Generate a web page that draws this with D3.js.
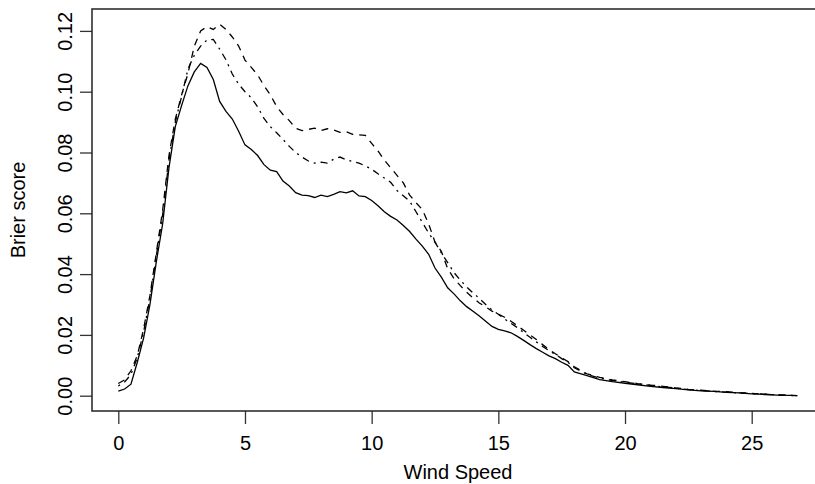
<!DOCTYPE html>
<html>
<head>
<meta charset="utf-8">
<script src="https://cdn.jsdelivr.net/npm/d3@7"></script>
<style>
body{margin:0;background:#fff;}
text{font-family:"Liberation Sans",Arial,Helvetica,sans-serif;fill:#000;}
</style>
</head>
<body>
<div id="brier_viz"></div>
<script>
// wind speed grid shared by the three curves
var windSpeed = [0,0.25,0.5,0.75,1,1.25,1.5,1.75,2,2.25,2.5,2.75,3,3.25,3.5,3.75,4,4.25,4.5,4.75,
    5,5.25,5.5,5.75,6,6.25,6.5,6.75,7,7.25,7.5,7.75,8,8.25,8.5,8.75,9,9.25,9.5,9.75,
    10,10.25,10.5,10.75,11,11.25,11.5,11.75,12,12.25,12.5,12.75,13,13.25,13.5,13.75,14,14.25,14.5,14.75,
    15,15.25,15.5,15.75,16,16.25,16.5,16.75,17,17.25,17.5,17.75,18,18.5,19,19.5,20,20.5,21,21.5,
    22,22.5,23,23.5,24,24.5,25,25.5,26,26.5,26.8];

// solid
var brierSolid = [0.0015,0.0022,0.0038,0.0110,0.0190,0.0300,0.0440,0.0565,0.0750,0.0885,0.0955,0.1020,0.1065,0.1093,0.1080,0.1040,0.0968,0.0935,0.0910,0.0870,
    0.0825,0.0810,0.0790,0.0760,0.0742,0.0737,0.0706,0.0690,0.0668,0.0660,0.0658,0.0652,0.0660,0.0655,0.0662,0.0671,0.0667,0.0674,0.0657,0.0655,
    0.0642,0.0625,0.0605,0.0590,0.0578,0.0560,0.0540,0.0515,0.0492,0.0465,0.0420,0.0390,0.0355,0.0335,0.0312,0.0293,0.0278,0.0262,0.0245,0.0228,
    0.0218,0.0213,0.0207,0.0195,0.0182,0.0168,0.0155,0.0143,0.0131,0.0122,0.0110,0.0100,0.0078,0.0066,0.0053,0.0046,0.0041,0.0036,0.0031,0.0027,
    0.0023,0.0019,0.0016,0.0014,0.0011,0.0009,0.0006,0.0004,0.0002,0.0001,0.0000];

// dashed
var brierDashed = [0.0040,0.0052,0.0082,0.0132,0.0220,0.0330,0.0470,0.0610,0.0790,0.0910,0.0990,0.1060,0.1150,0.1200,0.1214,0.1205,0.1222,0.1205,0.1180,0.1150,
    0.1104,0.1080,0.1055,0.1020,0.0990,0.0951,0.0925,0.0905,0.0880,0.0872,0.0876,0.0880,0.0872,0.0878,0.0874,0.0866,0.0868,0.0860,0.0858,0.0856,
    0.0830,0.0805,0.0775,0.0750,0.0725,0.0700,0.0660,0.0635,0.0612,0.0565,0.0505,0.0475,0.0418,0.0385,0.0362,0.0340,0.0322,0.0305,0.0292,0.0278,
    0.0268,0.0258,0.0245,0.0230,0.0215,0.0200,0.0185,0.0168,0.0152,0.0138,0.0125,0.0112,0.0095,0.0072,0.0060,0.0052,0.0046,0.0040,0.0035,0.0031,
    0.0026,0.0021,0.0018,0.0015,0.0013,0.0010,0.0008,0.0005,0.0003,0.0001,0.0000];

// dot-dash
var brierDotDash = [0.0032,0.0045,0.0070,0.0125,0.0210,0.0320,0.0460,0.0595,0.0775,0.0900,0.0985,0.1075,0.1120,0.1150,0.1170,0.1172,0.1140,0.1105,0.1058,0.1025,
    0.1000,0.0980,0.0950,0.0912,0.0885,0.0865,0.0843,0.0820,0.0800,0.0785,0.0772,0.0765,0.0768,0.0765,0.0778,0.0785,0.0776,0.0770,0.0765,0.0756,
    0.0745,0.0730,0.0716,0.0702,0.0675,0.0658,0.0640,0.0605,0.0570,0.0535,0.0505,0.0470,0.0438,0.0405,0.0380,0.0358,0.0338,0.0320,0.0300,0.0282,
    0.0268,0.0252,0.0238,0.0224,0.0208,0.0192,0.0177,0.0162,0.0148,0.0136,0.0122,0.0110,0.0092,0.0070,0.0058,0.0050,0.0044,0.0039,0.0034,0.0029,
    0.0025,0.0020,0.0017,0.0014,0.0012,0.0009,0.0007,0.0005,0.0003,0.0001,0.0000];

var xTicks = [0,5,10,15,20,25];
var yTicks = [0,0.02,0.04,0.06,0.08,0.10,0.12];

var width = 815, height = 484;
var box = {left:92, top:9, right:824, bottom:411};

var x = d3.scaleLinear()
    .domain([0,25])
    .range([118.3,751.7]);

var y = d3.scaleLinear()
    .domain([0,0.12])
    .range([395.7,30.9]);

var svg = d3.select("#brier_viz")
    .append("svg")
    .attr("width",width)
    .attr("height",height);

//axes
var x_axis = svg.append("g")
    .attr("transform","translate(0," + box.bottom + ")")
    .call(d3.axisBottom(x).tickValues(xTicks).tickSize(13).tickPadding(6).tickFormat(d3.format("d")));
x_axis.select(".domain").remove();
x_axis.selectAll(".tick line").attr("stroke","#333").attr("stroke-width",1.3);
x_axis.selectAll(".tick text")
    .attr("fill","#000")
    .style("font-size","20px")
    .attr("y",39)
    .attr("dy",null);

var y_axis = svg.append("g")
    .attr("transform","translate(" + box.left + ",0)")
    .call(d3.axisLeft(y).tickValues(yTicks).tickSize(12).tickFormat(d3.format(".2f")));
y_axis.select(".domain").remove();
y_axis.selectAll(".tick line").attr("stroke","#333").attr("stroke-width",1.3);
y_axis.selectAll(".tick text")
    .attr("fill","#000")
    .style("font-size","20px")
    .attr("x",null)
    .attr("dy",null)
    .attr("transform","translate(-20,0) rotate(-90)")
    .style("text-anchor","middle");

//box
svg.append("rect")
    .attr("x",box.left)
    .attr("y",box.top)
    .attr("width",box.right-box.left)
    .attr("height",box.bottom-box.top)
    .attr("fill","none")
    .attr("stroke","#222")
    .attr("stroke-width",1.5);

//axis titles
svg.append("text")
    .attr("x",(box.left+box.right)/2)
    .attr("y",479)
    .style("text-anchor","middle")
    .style("font-size","20px")
    .text("Wind Speed");

svg.append("text")
    .attr("transform","translate(25," + (box.top+box.bottom)/2 + ") rotate(-90)")
    .style("text-anchor","middle")
    .style("font-size","20px")
    .text("Brier score");

//curves
var series = [
    {values:brierSolid, dash:null},
    {values:brierDashed, dash:"7,6"},
    {values:brierDotDash, dash:"2,5,7,5"}
];

var line = d3.line()
    .x(d => x(d[0]))
    .y(d => y(d[1]));

svg.append("g")
    .selectAll("path")
    .data(series)
    .enter()
    .append("path")
    .attr("d",s => line(windSpeed.map((w,i) => [w,s.values[i]])))
    .attr("fill","none")
    .attr("stroke","#000")
    .attr("stroke-width",1.3)
    .attr("stroke-dasharray",s => s.dash);
</script>
</body>
</html>
